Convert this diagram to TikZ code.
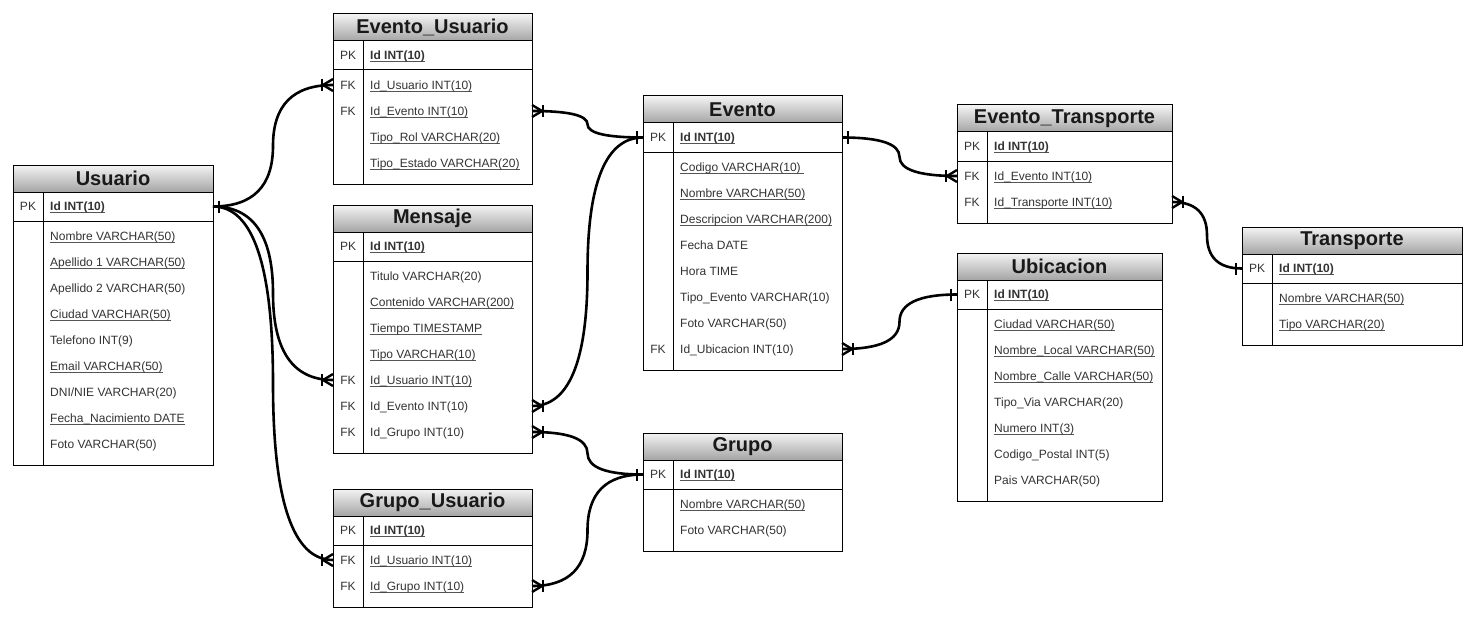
\documentclass[tikz,border=0pt]{standalone}
\usepackage{fontspec}
\setmainfont{Liberation Sans}
\usetikzlibrary{calc}
\definecolor{txt}{HTML}{333333}
\definecolor{ulc}{HTML}{555555}
\definecolor{hdtop}{HTML}{F4F4F4}
\definecolor{hdbot}{HTML}{A4A4A4}
\newsavebox\erulbox
\newcommand\erul[1]{\sbox\erulbox{#1}\rlap{\color{ulc}\rule[-2.2pt]{\wd\erulbox}{0.9pt}}\usebox\erulbox}
\tikzset{
 tablebox/.style={draw=black, line width=1pt, fill=white, inner sep=0pt, outer sep=0pt},
 hdr/.style={draw=black, line width=1pt, top color=hdtop, bottom color=hdbot, inner sep=0pt, outer sep=0pt,
   font=\fontsize{20}{23}\selectfont\bfseries, text=black!90},
 rowbox/.style={inner sep=0pt, outer sep=0pt},
 keytext/.style={font=\fontsize{12}{14}\selectfont, text=txt, inner sep=0pt, text height=9pt, text depth=2.5pt},
 fieldtext/.style={font=\fontsize{12}{14}\selectfont, text=txt, inner sep=0pt, anchor=west, text height=9pt, text depth=2.5pt},
 pktext/.style={fieldtext, font=\fontsize{12}{14}\selectfont\bfseries},
 frameline/.style={line width=1pt, draw=black},
 conn/.style={line width=2.6pt, draw=black},
 erm/.style={line width=2.4pt, draw=black},
}
\newcommand\ertable[6]{%
 \pgfmathsetmacro\erH{92+26*(#6-1)}%
 \expandafter\xdef\csname erw@#1\endcsname{#5}%
 \node[tablebox, minimum width=#5, minimum height=\erH, anchor=north west] (#1) at (#3,#4) {};
 \node[hdr, minimum width=#5, minimum height=27, anchor=north west] (#1-title) at (#1.north west) {#2};
 \node[rowbox, minimum width=#5, minimum height=29, anchor=north west] (#1-pk) at ($(#1.north west)+(0,27)$) {};
 \draw[frameline] (#1-pk.south west) -- (#1-pk.south east);
 \draw[frameline] ($(#1-title.south west)+(30,0)$) -- ($(#1.south west)+(30,0)$);
 \node[keytext] at ($(#1-pk.west)+(15,0.5)$) {PK};
 \node[pktext] at ($(#1-pk.west)+(37,0.5)$) {\erul{Id INT(10)}};
}
\newcommand\erow[4]{%
 \edef\erW{\csname erw@#1\endcsname}%
 \node[rowbox, minimum width=\erW, minimum height=26, anchor=north west] (#1-r#2) at ($(#1.north west)+(0,{58+26*(#2-1)})$) {};
 \node[keytext] at ($(#1-r#2.west)+(15,1)$) {#3};
 \node[fieldtext] at ($(#1-r#2.west)+(37,1)$) {#4};
}
\newcommand\conn[2]{%
 \path ($(#1)!0.5!(#2)$) coordinate (erM);
 \path (#1 -| erM) coordinate (erCa);
 \path (#2 -| erM) coordinate (erCb);
 \draw[conn] (#1) .. controls ($(#1)!0.6667!(erCa)$) and ($(erM)!0.6667!(erCa)$) .. (erM)
   .. controls ($(erM)!0.6667!(erCb)$) and ($(#2)!0.6667!(erCb)$) .. (#2);
}
\newcommand\mone[2]{%
 \draw[erm] ($(#1)+({#2*6},-6)$) -- ($(#1)+({#2*6},6)$);
}
\newcommand\mmany[2]{%
 \draw[erm] ($(#1)+({#2*11},-6)$) -- ($(#1)+({#2*11},6)$);
 \draw[erm] ($(#1)+(0,-6)$) -- ($(#1)+({#2*10},0)$) -- ($(#1)+(0,6)$);
}
\begin{document}
\begin{tikzpicture}[x=1pt,y=-1pt]
\useasboundingbox[fill=white] (0,0) rectangle (1482,623);

% Usuario
\ertable{usuario}{Usuario}{13}{165}{200}{9}
\erow{usuario}{1}{}{\erul{Nombre VARCHAR(50)}}
\erow{usuario}{2}{}{\erul{Apellido 1 VARCHAR(50)}}
\erow{usuario}{3}{}{Apellido 2 VARCHAR(50)}
\erow{usuario}{4}{}{\erul{Ciudad VARCHAR(50)}}
\erow{usuario}{5}{}{Telefono INT(9)}
\erow{usuario}{6}{}{\erul{Email VARCHAR(50)}}
\erow{usuario}{7}{}{DNI/NIE VARCHAR(20)}
\erow{usuario}{8}{}{\erul{Fecha\_Nacimiento DATE}}
\erow{usuario}{9}{}{Foto VARCHAR(50)}

% Evento_Usuario
\ertable{eu}{Evento\_Usuario}{333}{14}{199}{4}
\erow{eu}{1}{FK}{\erul{Id\_Usuario INT(10)}}
\erow{eu}{2}{FK}{\erul{Id\_Evento INT(10)}}
\erow{eu}{3}{}{\erul{Tipo\_Rol VARCHAR(20)}}
\erow{eu}{4}{}{\erul{Tipo\_Estado VARCHAR(20)}}

% Mensaje
\ertable{mensaje}{Mensaje}{333}{205}{199}{7}
\erow{mensaje}{1}{}{Titulo VARCHAR(20)}
\erow{mensaje}{2}{}{\erul{Contenido VARCHAR(200)}}
\erow{mensaje}{3}{}{\erul{Tiempo TIMESTAMP}}
\erow{mensaje}{4}{}{\erul{Tipo VARCHAR(10)}}
\erow{mensaje}{5}{FK}{\erul{Id\_Usuario INT(10)}}
\erow{mensaje}{6}{FK}{Id\_Evento INT(10)}
\erow{mensaje}{7}{FK}{Id\_Grupo INT(10)}

% Grupo_Usuario
\ertable{gu}{Grupo\_Usuario}{333}{489}{199}{2}
\erow{gu}{1}{FK}{\erul{Id\_Usuario INT(10)}}
\erow{gu}{2}{FK}{\erul{Id\_Grupo INT(10)}}

% Evento
\ertable{evento}{Evento}{643}{96}{199}{8}
\erow{evento}{1}{}{\erul{Codigo VARCHAR(10)\ }}
\erow{evento}{2}{}{\erul{Nombre VARCHAR(50)}}
\erow{evento}{3}{}{\erul{Descripcion VARCHAR(200)}}
\erow{evento}{4}{}{Fecha DATE}
\erow{evento}{5}{}{Hora TIME}
\erow{evento}{6}{}{Tipo\_Evento VARCHAR(10)}
\erow{evento}{7}{}{Foto VARCHAR(50)}
\erow{evento}{8}{FK}{Id\_Ubicacion INT(10)}

% Grupo
\ertable{grupo}{Grupo}{643}{433}{199}{2}
\erow{grupo}{1}{}{\erul{Nombre VARCHAR(50)}}
\erow{grupo}{2}{}{Foto VARCHAR(50)}

% Evento_Transporte
\ertable{et}{Evento\_Transporte}{957}{105}{215}{2}
\erow{et}{1}{FK}{\erul{Id\_Evento INT(10)}}
\erow{et}{2}{FK}{\erul{Id\_Transporte INT(10)}}

% Ubicacion
\ertable{ubicacion}{Ubicacion}{957}{253}{205}{7}
\erow{ubicacion}{1}{}{\erul{Ciudad VARCHAR(50)}}
\erow{ubicacion}{2}{}{\erul{Nombre\_Local VARCHAR(50)}}
\erow{ubicacion}{3}{}{\erul{Nombre\_Calle VARCHAR(50)}}
\erow{ubicacion}{4}{}{Tipo\_Via VARCHAR(20)}
\erow{ubicacion}{5}{}{\erul{Numero INT(3)}}
\erow{ubicacion}{6}{}{Codigo\_Postal INT(5)}
\erow{ubicacion}{7}{}{Pais VARCHAR(50)}

% Transporte
\ertable{transporte}{Transporte}{1242}{227}{220}{2}
\erow{transporte}{1}{}{\erul{Nombre VARCHAR(50)}}
\erow{transporte}{2}{}{\erul{Tipo VARCHAR(20)}}

% Connectors
\conn{usuario-pk.east}{eu-r1.west}
\conn{usuario-pk.east}{mensaje-r5.west}
\conn{usuario-pk.east}{gu-r1.west}
\mone{usuario-pk.east}{1}
\mmany{eu-r1.west}{-1}
\mmany{mensaje-r5.west}{-1}
\mmany{gu-r1.west}{-1}

\conn{eu-r2.east}{evento-pk.west}
\conn{mensaje-r6.east}{evento-pk.west}
\mmany{eu-r2.east}{1}
\mmany{mensaje-r6.east}{1}
\mone{evento-pk.west}{-1}

\conn{mensaje-r7.east}{grupo-pk.west}
\conn{gu-r2.east}{grupo-pk.west}
\mmany{mensaje-r7.east}{1}
\mmany{gu-r2.east}{1}
\mone{grupo-pk.west}{-1}

\conn{evento-pk.east}{et-r1.west}
\mone{evento-pk.east}{1}
\mmany{et-r1.west}{-1}

\conn{evento-r8.east}{ubicacion-pk.west}
\mmany{evento-r8.east}{1}
\mone{ubicacion-pk.west}{-1}

\conn{et-r2.east}{transporte-pk.west}
\mmany{et-r2.east}{1}
\mone{transporte-pk.west}{-1}
\end{tikzpicture}
\end{document}
